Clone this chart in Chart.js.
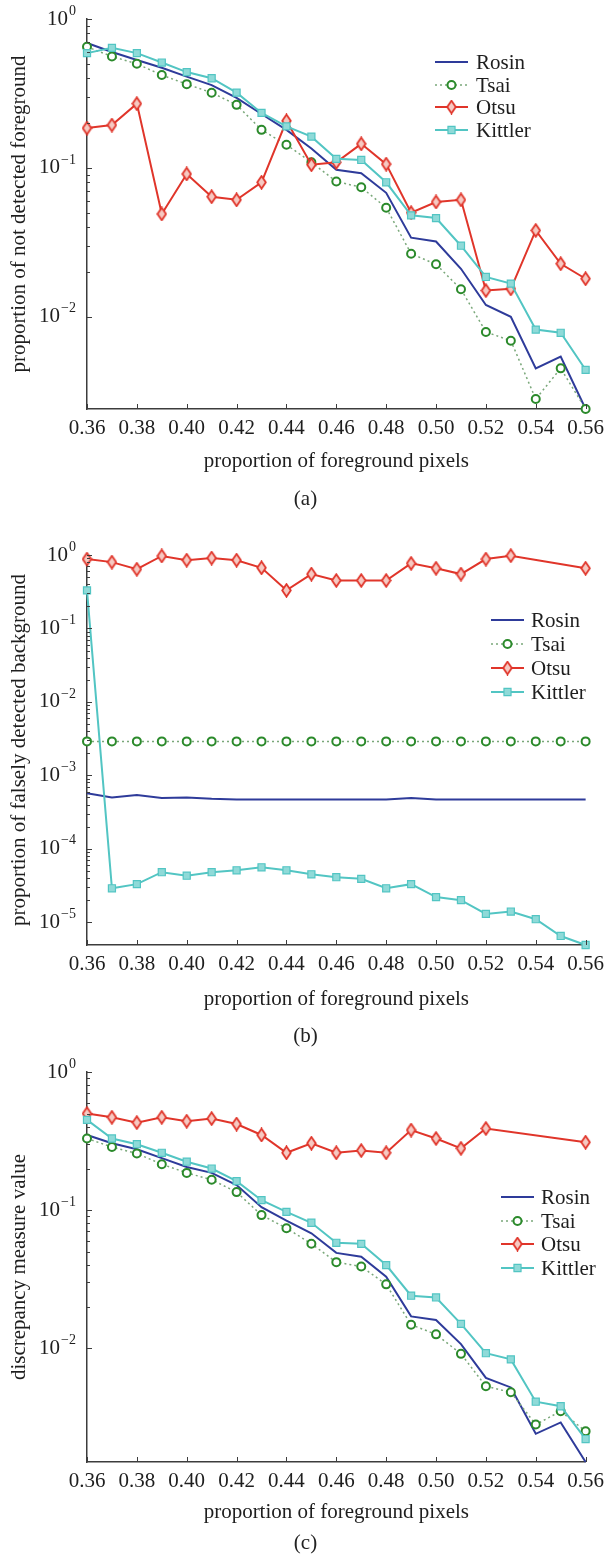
<!DOCTYPE html>
<html>
<head>
<meta charset="utf-8">
<script src="https://cdn.jsdelivr.net/npm/chart.js@4.4.1/dist/chart.umd.min.js"></script>
<style>
  html, body { margin: 0; padding: 0; background: #fff; }
  body { width: 611px; height: 1554px; position: relative; overflow: hidden; font-family: "Liberation Serif", "DejaVu Serif", serif; }
  .panel { position: absolute; left: 0; width: 611px; }
  .caption { position: absolute; left: 0; width: 611px; text-align: center; font-size: 21px; line-height: 22px; color: #222; }
</style>
</head>
<body>
<div class="panel" style="top:0;height:520px"><canvas id="chart-a"></canvas></div>
<div class="panel" style="top:520px;height:530px"><canvas id="chart-b"></canvas></div>
<div class="panel" style="top:1050px;height:504px"><canvas id="chart-c"></canvas></div>
<div class="caption" style="top:487px">(a)</div>
<div class="caption" style="top:1024px">(b)</div>
<div class="caption" style="top:1531px">(c)</div>
<script>
// --- data ---
const xValues = [0.36, 0.37, 0.38, 0.39, 0.40, 0.41, 0.42, 0.43, 0.44, 0.45, 0.46,
                 0.47, 0.48, 0.49, 0.50, 0.51, 0.52, 0.53, 0.54, 0.55, 0.56];
const xTicks = [0.36, 0.38, 0.40, 0.42, 0.44, 0.46, 0.48, 0.50, 0.52, 0.54, 0.56];
const xTickLabels = ['0.36', '0.38', '0.40', '0.42', '0.44', '0.46', '0.48', '0.50', '0.52', '0.54', '0.56'];
const seriesNames = ['Rosin', 'Tsai', 'Otsu', 'Kittler'];

// (a) not detected foreground
const rosinA = [0.69, 0.60, 0.53, 0.47, 0.41, 0.36, 0.295, 0.23, 0.18, 0.135, 0.097,
                0.092, 0.068, 0.034, 0.032, 0.021, 0.012, 0.0100, 0.0045, 0.0054, 0.0024];
const tsaiA = [0.65, 0.56, 0.50, 0.42, 0.365, 0.32, 0.265, 0.18, 0.143, 0.109, 0.081,
               0.074, 0.054, 0.0265, 0.0225, 0.0153, 0.0079, 0.0069, 0.0028, 0.0045, 0.0024];
const otsuA = [0.185, 0.194, 0.27, 0.049, 0.091, 0.064, 0.061, 0.080, 0.207, 0.105, 0.109,
               0.145, 0.106, 0.050, 0.059, 0.061, 0.015, 0.0154, 0.038, 0.0227, 0.018];
const kittlerA = [0.59, 0.64, 0.59, 0.51, 0.44, 0.40, 0.32, 0.234, 0.19, 0.162, 0.115,
                  0.113, 0.080, 0.048, 0.046, 0.030, 0.0185, 0.0167, 0.0082, 0.0078, 0.0044];

// (b) falsely detected background
const rosinB = [5.7e-4, 5.0e-4, 5.4e-4, 4.9e-4, 5.0e-4, 4.8e-4, 4.7e-4, 4.7e-4, 4.7e-4, 4.7e-4, 4.7e-4,
                4.7e-4, 4.7e-4, 4.9e-4, 4.7e-4, 4.7e-4, 4.7e-4, 4.7e-4, 4.7e-4, 4.7e-4, 4.7e-4];
const tsaiB = [0.0029, 0.0029, 0.0029, 0.0029, 0.0029, 0.0029, 0.0029, 0.0029, 0.0029, 0.0029, 0.0029,
               0.0029, 0.0029, 0.0029, 0.0029, 0.0029, 0.0029, 0.0029, 0.0029, 0.0029, 0.0029];
const otsuB = [0.88, 0.80, 0.64, 0.97, 0.85, 0.91, 0.85, 0.67, 0.33, 0.55, 0.45,
               0.45, 0.45, 0.77, 0.66, 0.55, 0.88, 0.98, null, null, 0.66];
const kittlerB = [0.33, 2.9e-5, 3.3e-5, 4.8e-5, 4.3e-5, 4.8e-5, 5.1e-5, 5.6e-5, 5.1e-5, 4.5e-5, 4.1e-5,
                  3.9e-5, 2.9e-5, 3.3e-5, 2.2e-5, 2.0e-5, 1.3e-5, 1.4e-5, 1.1e-5, 6.5e-6, 4.9e-6];

// (c) discrepancy measure
const rosinC = [0.35, 0.305, 0.276, 0.238, 0.205, 0.186, 0.152, 0.105, 0.084, 0.068, 0.049,
                0.046, 0.033, 0.017, 0.016, 0.0107, 0.0061, 0.0052, 0.0024, 0.0029, 0.0015];
const tsaiC = [0.33, 0.286, 0.257, 0.215, 0.186, 0.166, 0.135, 0.092, 0.074, 0.057, 0.042,
               0.039, 0.029, 0.0148, 0.0126, 0.0091, 0.0053, 0.0048, 0.0028, 0.0035, 0.0025];
const otsuC = [0.50, 0.47, 0.43, 0.47, 0.44, 0.46, 0.42, 0.35, 0.26, 0.305, 0.26,
               0.27, 0.26, 0.38, 0.33, 0.28, 0.39, null, null, null, 0.31];
const kittlerC = [0.45, 0.33, 0.30, 0.26, 0.224, 0.20, 0.162, 0.118, 0.097, 0.081, 0.058,
                  0.057, 0.040, 0.024, 0.0233, 0.015, 0.0092, 0.0083, 0.0041, 0.0038, 0.0022];

// y ticks (powers of ten) and their exponent labels
const yTicksA = [1, 0.1, 0.01];
const yExpLabelsA = ['0', '\u22121', '\u22122'];
const yTicksB = [1, 0.1, 0.01, 0.001, 0.0001, 0.00001];
const yExpLabelsB = ['0', '\u22121', '\u22122', '\u22123', '\u22124', '\u22125'];
const yTicksC = [1, 0.1, 0.01];
const yExpLabelsC = ['0', '\u22121', '\u22122'];

// --- styles ---
const FONT = '"Liberation Serif", "DejaVu Serif", serif';
const FONT_SIZE = 21;
const AXIS_COLOR = '#3c3c3c';
const TEXT_COLOR = '#1e1e1e';
const ROSIN_COLOR = '#2e3b9a';
const TSAI_LINE = '#7aa87a';
const TSAI_MARK = '#2b8a2b';
const OTSU_COLOR = '#e0352a';
const KITTLER_COLOR = '#52c5c3';

Chart.defaults.font.family = FONT;
Chart.defaults.color = TEXT_COLOR;

function diamondImage() {
    const c = document.createElement('canvas');
    c.width = 11; c.height = 15;
    const g = c.getContext('2d');
    g.beginPath();
    g.moveTo(5.5, 1.2); g.lineTo(9.8, 7.5); g.lineTo(5.5, 13.8); g.lineTo(1.2, 7.5);
    g.closePath();
    g.fillStyle = '#f6c9c2';
    g.fill();
    g.lineWidth = 1.8;
    g.strokeStyle = OTSU_COLOR;
    g.stroke();
    return c;
}
const diamond = diamondImage();

function makeDatasets(rosin, tsai, otsu, kittler) {
    const pts = arr => xValues.map((x, i) => ({ x: x, y: arr[i] }));
    return [
        { label: 'Rosin', data: pts(rosin), borderColor: ROSIN_COLOR, borderWidth: 2, pointRadius: 0, order: 3 },
        { label: 'Tsai', data: pts(tsai), borderColor: TSAI_LINE, borderWidth: 1.5, borderDash: [2, 3],
          pointStyle: 'circle', pointRadius: 4, pointBorderWidth: 2, pointBorderColor: TSAI_MARK,
          pointBackgroundColor: '#fff', order: 2 },
        { label: 'Otsu', data: pts(otsu), borderColor: OTSU_COLOR, borderWidth: 2, spanGaps: true,
          pointStyle: diamond, pointRadius: 6, order: 1 },
        { label: 'Kittler', data: pts(kittler), borderColor: KITTLER_COLOR, borderWidth: 2,
          pointStyle: 'rect', pointRadius: 5, pointBorderWidth: 1.2, pointBorderColor: KITTLER_COLOR,
          pointBackgroundColor: '#8fdad8', order: 0 }
    ];
}

// inside tick marks, power-of-ten labels and legend
const decorations = {
    id: 'decorations',
    afterDraw(chart, args, opts) {
        const { ctx, chartArea, scales: { x, y } } = chart;
        ctx.save();
        ctx.strokeStyle = AXIS_COLOR;
        ctx.lineWidth = 1;
        xTicks.forEach(v => {
            const px = Math.round(x.getPixelForValue(v)) + 0.5;
            ctx.beginPath();
            ctx.moveTo(px, chartArea.bottom);
            ctx.lineTo(px, chartArea.bottom - 5);
            ctx.stroke();
        });
        opts.yTicks.forEach(v => {
            for (let m = 1; m <= 9; m++) {
                const val = v * m;
                if (val < y.min || val > y.max) continue;
                const py = Math.round(y.getPixelForValue(val)) + 0.5;
                ctx.beginPath();
                ctx.moveTo(chartArea.left, py);
                ctx.lineTo(chartArea.left + (m === 1 ? 5 : 3), py);
                ctx.stroke();
            }
        });

        // 10^n labels
        ctx.fillStyle = TEXT_COLOR;
        ctx.textBaseline = 'middle';
        ctx.textAlign = 'left';
        opts.yTicks.forEach((v, i) => {
            const py = y.getPixelForValue(v);
            const exp = opts.yLabels[i];
            ctx.font = '14px ' + FONT;
            const ew = ctx.measureText(exp).width;
            ctx.font = FONT_SIZE + 'px ' + FONT;
            const bw = ctx.measureText('10').width;
            const x0 = chartArea.left - 11 - ew - bw - 1;
            ctx.fillText('10', x0, py);
            ctx.font = '14px ' + FONT;
            ctx.fillText(exp, x0 + bw + 1, py - 8);
        });

        // legend
        const lg = opts.legend;
        chart.data.datasets.forEach((ds, i) => {
            const ly = lg.rows[i];
            const mid = (lg.x0 + lg.x1) / 2;
            ctx.save();
            ctx.strokeStyle = ds.borderColor;
            ctx.lineWidth = ds.borderWidth;
            ctx.setLineDash(ds.borderDash || []);
            ctx.beginPath();
            ctx.moveTo(lg.x0, ly);
            ctx.lineTo(lg.x1, ly);
            ctx.stroke();
            ctx.restore();
            if (ds.pointRadius > 0) {
                ctx.save();
                ctx.lineWidth = ds.pointBorderWidth || 1;
                ctx.strokeStyle = ds.pointBorderColor || ds.borderColor;
                ctx.fillStyle = ds.pointBackgroundColor || ds.borderColor;
                if (typeof ds.pointStyle === 'string') {
                    ctx.beginPath();
                    if (ds.pointStyle === 'circle') {
                        ctx.arc(mid, ly, ds.pointRadius, 0, Math.PI * 2);
                    } else {
                        const s = ds.pointRadius * Math.SQRT1_2;
                        ctx.rect(mid - s, ly - s, 2 * s, 2 * s);
                    }
                    ctx.fill();
                    ctx.stroke();
                } else {
                    ctx.drawImage(ds.pointStyle, mid - ds.pointStyle.width / 2, ly - ds.pointStyle.height / 2);
                }
                ctx.restore();
            }
            ctx.fillStyle = TEXT_COLOR;
            ctx.font = FONT_SIZE + 'px ' + FONT;
            ctx.textAlign = 'left';
            ctx.textBaseline = 'middle';
            ctx.fillText(seriesNames[i], lg.xt, ly + 1);
        });
        ctx.restore();
    }
};

function makePanel(canvasId, datasets, cfg) {
    return new Chart(document.getElementById(canvasId), {
        type: 'line',
        data: { datasets: datasets },
        options: {
            responsive: true,
            maintainAspectRatio: false,
            animation: false,
            layout: { padding: { top: cfg.padTop, right: 19, bottom: cfg.padBottom, left: 0 } },
            datasets: { line: { clip: false, tension: 0 } },
            plugins: {
                legend: { display: false },
                tooltip: { enabled: false },
                decorations: { yTicks: cfg.yTicks, yLabels: cfg.yLabels, legend: cfg.legend }
            },
            scales: {
                x: {
                    type: 'linear',
                    min: 0.36,
                    max: 0.56,
                    afterFit: s => { s.height = cfg.xHeight; },
                    afterBuildTicks: s => { s.ticks = xTicks.map(v => ({ value: v })); },
                    grid: { display: false, drawTicks: false },
                    border: { display: true, color: AXIS_COLOR, width: 1.5 },
                    ticks: {
                        autoSkip: false, maxRotation: 0, padding: 7,
                        font: { size: FONT_SIZE, family: FONT }, color: TEXT_COLOR,
                        callback: (v, i) => xTickLabels[i]
                    },
                    title: {
                        display: true, text: 'proportion of foreground pixels',
                        font: { size: FONT_SIZE, family: FONT }, color: TEXT_COLOR,
                        padding: { top: 0, bottom: 6 }
                    }
                },
                y: {
                    type: 'logarithmic',
                    min: cfg.yMin,
                    max: 1,
                    afterFit: s => { s.width = 87; },
                    grid: { display: false, drawTicks: false },
                    border: { display: true, color: AXIS_COLOR, width: 1.5 },
                    ticks: { display: false },
                    title: {
                        display: true, text: cfg.yTitle,
                        font: { size: FONT_SIZE, family: FONT }, color: TEXT_COLOR,
                        padding: { top: 7, bottom: 0 }
                    }
                }
            }
        },
        plugins: [decorations]
    });
}

makePanel('chart-a', makeDatasets(rosinA, tsaiA, otsuA, kittlerA), {
    padTop: 19, padBottom: 40, xHeight: 71, yMin: 0.0024,
    yTicks: yTicksA, yLabels: yExpLabelsA,
    yTitle: 'proportion of not detected foreground',
    legend: { x0: 435, x1: 468, xt: 476, rows: [62, 85, 107, 130] }
});
makePanel('chart-b', makeDatasets(rosinB, tsaiB, otsuB, kittlerB), {
    padTop: 35, padBottom: 32, xHeight: 73, yMin: 4.9e-6,
    yTicks: yTicksB, yLabels: yExpLabelsB,
    yTitle: 'proportion of falsely detected background',
    legend: { x0: 491, x1: 524, xt: 531, rows: [100, 124, 148, 172] }
});
makePanel('chart-c', makeDatasets(rosinC, tsaiC, otsuC, kittlerC), {
    padTop: 22, padBottom: 23, xHeight: 69, yMin: 0.0015,
    yTicks: yTicksC, yLabels: yExpLabelsC,
    yTitle: 'discrepancy measure value',
    legend: { x0: 501, x1: 534, xt: 541, rows: [147, 171, 194, 218] }
});
</script>
</body>
</html>
